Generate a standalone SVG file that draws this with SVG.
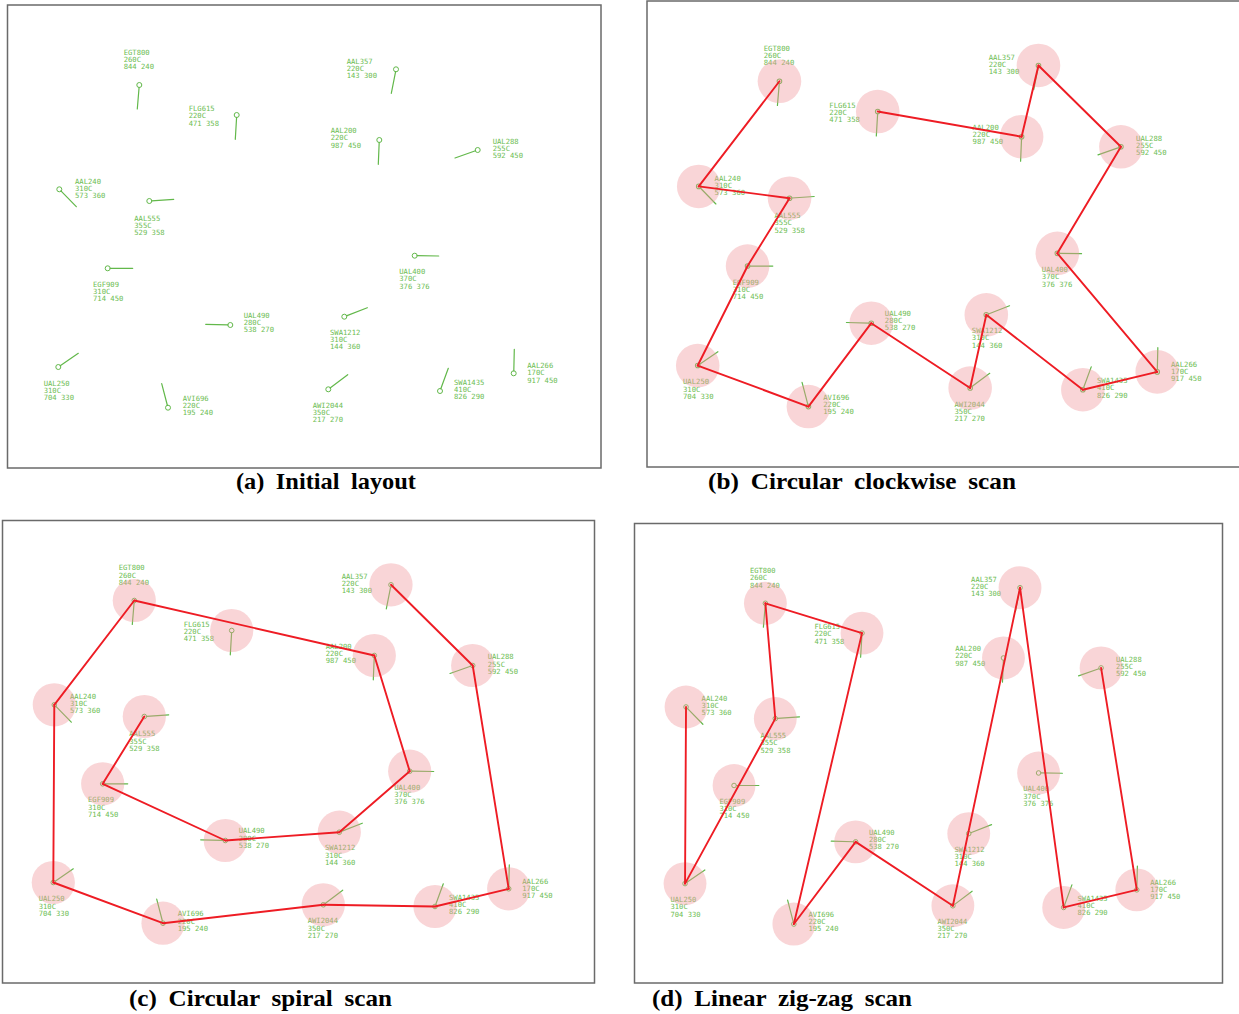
<svg xmlns="http://www.w3.org/2000/svg" width="1239" height="1014" viewBox="0 0 1239 1014">
<style>
.bg{fill:#ffffff}
.frame{fill:none;stroke:#6a6a6a;stroke-width:1.5}
.hd{stroke:#62b84a;stroke-width:1.2;stroke-linecap:round}
.mk{fill:none;stroke:#62b84a;stroke-width:1}
.lb{font-family:"DejaVu Sans Mono","Liberation Mono",monospace;font-size:7.2px;fill:#6cbd52}
.halo{fill:#f0969b;fill-opacity:0.4}
.edge{stroke:#ee1c24;stroke-width:1.9;stroke-linecap:round}
.cap{font-family:"Liberation Serif","Times New Roman",serif;font-weight:bold;font-size:23px;word-spacing:5px;fill:#000}
</style>
<rect class="bg" x="0" y="0" width="1239" height="1014"/>

<!-- Panel frames -->
<rect class="frame" x="7.5" y="5" width="593.5" height="463"/>
<rect class="frame" x="647" y="1" width="600" height="466"/>
<rect class="frame" x="2.5" y="520.5" width="592" height="462.5"/>
<rect class="frame" x="634.5" y="523.5" width="588" height="459.5"/>

<!-- Panel (a) -->
<g id="panel-a">
<g id="a-EGT800"><line class="hd" x1="139.1" y1="87.3" x2="137.3" y2="109"/><circle class="mk" cx="139.3" cy="85" r="2.5"/><text class="lb" x="123.7" y="54.8">EGT800<tspan x="123.7" dy="7.2">260C</tspan><tspan x="123.7" dy="7.2">844 240</tspan></text></g>
<g id="a-FLG615"><line class="hd" x1="236.6" y1="117.3" x2="235.3" y2="139.3"/><circle class="mk" cx="236.7" cy="115" r="2.5"/><text class="lb" x="188.7" y="111.2">FLG615<tspan x="188.7" dy="7.2">220C</tspan><tspan x="188.7" dy="7.2">471 358</tspan></text></g>
<g id="a-AAL240"><line class="hd" x1="60.9" y1="190.9" x2="76.3" y2="206.7"/><circle class="mk" cx="59.3" cy="189.3" r="2.5"/><text class="lb" x="75" y="183.5">AAL240<tspan x="75" dy="7.2">310C</tspan><tspan x="75" dy="7.2">573 360</tspan></text></g>
<g id="a-AAL555"><line class="hd" x1="151.6" y1="200.8" x2="173.7" y2="199.3"/><circle class="mk" cx="149.3" cy="201" r="2.5"/><text class="lb" x="134.3" y="220.8">AAL555<tspan x="134.3" dy="7.2">355C</tspan><tspan x="134.3" dy="7.2">529 358</tspan></text></g>
<g id="a-AAL357"><line class="hd" x1="395.6" y1="71.6" x2="391.3" y2="93.3"/><circle class="mk" cx="396" cy="69.3" r="2.5"/><text class="lb" x="346.7" y="63.5">AAL357<tspan x="346.7" dy="7.2">220C</tspan><tspan x="346.7" dy="7.2">143 300</tspan></text></g>
<g id="a-AAL200"><line class="hd" x1="379.2" y1="142.3" x2="378.3" y2="164.3"/><circle class="mk" cx="379.3" cy="140" r="2.5"/><text class="lb" x="330.7" y="133.2">AAL200<tspan x="330.7" dy="7.2">220C</tspan><tspan x="330.7" dy="7.2">987 450</tspan></text></g>
<g id="a-UAL288"><line class="hd" x1="475.5" y1="150.8" x2="455" y2="158"/><circle class="mk" cx="477.7" cy="150" r="2.5"/><text class="lb" x="492.7" y="143.8">UAL288<tspan x="492.7" dy="7.2">255C</tspan><tspan x="492.7" dy="7.2">592 450</tspan></text></g>
<g id="a-EGF909"><line class="hd" x1="110" y1="268.3" x2="132.7" y2="268.3"/><circle class="mk" cx="107.7" cy="268.3" r="2.5"/><text class="lb" x="93" y="286.8">EGF909<tspan x="93" dy="7.2">310C</tspan><tspan x="93" dy="7.2">714 450</tspan></text></g>
<g id="a-UAL490"><line class="hd" x1="228" y1="324.9" x2="205.7" y2="324.3"/><circle class="mk" cx="230.3" cy="325" r="2.5"/><text class="lb" x="243.7" y="317.8">UAL490<tspan x="243.7" dy="7.2">280C</tspan><tspan x="243.7" dy="7.2">538 270</tspan></text></g>
<g id="a-UAL250"><line class="hd" x1="60.2" y1="365.7" x2="78.3" y2="353.3"/><circle class="mk" cx="58.3" cy="367" r="2.5"/><text class="lb" x="43.7" y="385.8">UAL250<tspan x="43.7" dy="7.2">310C</tspan><tspan x="43.7" dy="7.2">704 330</tspan></text></g>
<g id="a-AVI696"><line class="hd" x1="167.4" y1="405.5" x2="161.7" y2="383.7"/><circle class="mk" cx="168" cy="407.7" r="2.5"/><text class="lb" x="182.7" y="400.8">AVI696<tspan x="182.7" dy="7.2">220C</tspan><tspan x="182.7" dy="7.2">195 240</tspan></text></g>
<g id="a-UAL400"><line class="hd" x1="417" y1="255.7" x2="438.7" y2="256"/><circle class="mk" cx="414.7" cy="255.7" r="2.5"/><text class="lb" x="399.3" y="274.2">UAL400<tspan x="399.3" dy="7.2">370C</tspan><tspan x="399.3" dy="7.2">376 376</tspan></text></g>
<g id="a-SWA1212"><line class="hd" x1="346.4" y1="315.9" x2="367.3" y2="307.7"/><circle class="mk" cx="344.3" cy="316.7" r="2.5"/><text class="lb" x="330" y="334.8">SWA1212<tspan x="330" dy="7.2">310C</tspan><tspan x="330" dy="7.2">144 360</tspan></text></g>
<g id="a-AAL266"><line class="hd" x1="513.8" y1="371" x2="514.3" y2="349.3"/><circle class="mk" cx="513.7" cy="373.3" r="2.5"/><text class="lb" x="527.3" y="368.2">AAL266<tspan x="527.3" dy="7.2">170C</tspan><tspan x="527.3" dy="7.2">917 450</tspan></text></g>
<g id="a-SWA1435"><line class="hd" x1="440.8" y1="388.8" x2="448.3" y2="368.3"/><circle class="mk" cx="440" cy="391" r="2.5"/><text class="lb" x="454" y="384.5">SWA1435<tspan x="454" dy="7.2">410C</tspan><tspan x="454" dy="7.2">826 290</tspan></text></g>
<g id="a-AWI2044"><line class="hd" x1="330.1" y1="387.9" x2="347.7" y2="374.7"/><circle class="mk" cx="328.3" cy="389.3" r="2.5"/><text class="lb" x="312.7" y="407.8">AWI2044<tspan x="312.7" dy="7.2">350C</tspan><tspan x="312.7" dy="7.2">217 270</tspan></text></g>
</g>

<!-- Panel (b) -->
<g id="panel-b" transform="matrix(1.009,0,0,1.008,638.9,-4.4)">
<g id="b-EGT800"><line class="hd" x1="139.1" y1="87.3" x2="137.3" y2="109"/><circle class="mk" cx="139.3" cy="85" r="2.3"/><text class="lb" x="123.7" y="54.8">EGT800<tspan x="123.7" dy="7.2">260C</tspan><tspan x="123.7" dy="7.2">844 240</tspan></text><circle class="halo" cx="139.3" cy="85" r="21.6"/></g>
<g id="b-FLG615"><line class="hd" x1="236.6" y1="117.3" x2="235.3" y2="139.3"/><circle class="mk" cx="236.7" cy="115" r="2.3"/><text class="lb" x="188.7" y="111.2">FLG615<tspan x="188.7" dy="7.2">220C</tspan><tspan x="188.7" dy="7.2">471 358</tspan></text><circle class="halo" cx="236.7" cy="115" r="21.6"/></g>
<g id="b-AAL240"><line class="hd" x1="60.9" y1="190.9" x2="76.3" y2="206.7"/><circle class="mk" cx="59.3" cy="189.3" r="2.3"/><text class="lb" x="75" y="183.5">AAL240<tspan x="75" dy="7.2">310C</tspan><tspan x="75" dy="7.2">573 360</tspan></text><circle class="halo" cx="59.3" cy="189.3" r="21.6"/></g>
<g id="b-AAL555"><line class="hd" x1="151.6" y1="200.8" x2="173.7" y2="199.3"/><circle class="mk" cx="149.3" cy="201" r="2.3"/><text class="lb" x="134.3" y="220.8">AAL555<tspan x="134.3" dy="7.2">355C</tspan><tspan x="134.3" dy="7.2">529 358</tspan></text><circle class="halo" cx="149.3" cy="201" r="21.6"/></g>
<g id="b-AAL357"><line class="hd" x1="395.6" y1="71.6" x2="391.3" y2="93.3"/><circle class="mk" cx="396" cy="69.3" r="2.3"/><text class="lb" x="346.7" y="63.5">AAL357<tspan x="346.7" dy="7.2">220C</tspan><tspan x="346.7" dy="7.2">143 300</tspan></text><circle class="halo" cx="396" cy="69.3" r="21.6"/></g>
<g id="b-AAL200"><line class="hd" x1="379.2" y1="142.3" x2="378.3" y2="164.3"/><circle class="mk" cx="379.3" cy="140" r="2.3"/><text class="lb" x="330.7" y="133.2">AAL200<tspan x="330.7" dy="7.2">220C</tspan><tspan x="330.7" dy="7.2">987 450</tspan></text><circle class="halo" cx="379.3" cy="140" r="21.6"/></g>
<g id="b-UAL288"><line class="hd" x1="475.5" y1="150.8" x2="455" y2="158"/><circle class="mk" cx="477.7" cy="150" r="2.3"/><text class="lb" x="492.7" y="143.8">UAL288<tspan x="492.7" dy="7.2">255C</tspan><tspan x="492.7" dy="7.2">592 450</tspan></text><circle class="halo" cx="477.7" cy="150" r="21.6"/></g>
<g id="b-EGF909"><line class="hd" x1="110" y1="268.3" x2="132.7" y2="268.3"/><circle class="mk" cx="107.7" cy="268.3" r="2.3"/><text class="lb" x="93" y="286.8">EGF909<tspan x="93" dy="7.2">310C</tspan><tspan x="93" dy="7.2">714 450</tspan></text><circle class="halo" cx="107.7" cy="268.3" r="21.6"/></g>
<g id="b-UAL490"><line class="hd" x1="228" y1="324.9" x2="205.7" y2="324.3"/><circle class="mk" cx="230.3" cy="325" r="2.3"/><text class="lb" x="243.7" y="317.8">UAL490<tspan x="243.7" dy="7.2">280C</tspan><tspan x="243.7" dy="7.2">538 270</tspan></text><circle class="halo" cx="230.3" cy="325" r="21.6"/></g>
<g id="b-UAL250"><line class="hd" x1="60.2" y1="365.7" x2="78.3" y2="353.3"/><circle class="mk" cx="58.3" cy="367" r="2.3"/><text class="lb" x="43.7" y="385.8">UAL250<tspan x="43.7" dy="7.2">310C</tspan><tspan x="43.7" dy="7.2">704 330</tspan></text><circle class="halo" cx="58.3" cy="367" r="21.6"/></g>
<g id="b-AVI696"><line class="hd" x1="167.4" y1="405.5" x2="161.7" y2="383.7"/><circle class="mk" cx="168" cy="407.7" r="2.3"/><text class="lb" x="182.7" y="400.8">AVI696<tspan x="182.7" dy="7.2">220C</tspan><tspan x="182.7" dy="7.2">195 240</tspan></text><circle class="halo" cx="168" cy="407.7" r="21.6"/></g>
<g id="b-UAL400"><line class="hd" x1="417" y1="255.7" x2="438.7" y2="256"/><circle class="mk" cx="414.7" cy="255.7" r="2.3"/><text class="lb" x="399.3" y="274.2">UAL400<tspan x="399.3" dy="7.2">370C</tspan><tspan x="399.3" dy="7.2">376 376</tspan></text><circle class="halo" cx="414.7" cy="255.7" r="21.6"/></g>
<g id="b-SWA1212"><line class="hd" x1="346.4" y1="315.9" x2="367.3" y2="307.7"/><circle class="mk" cx="344.3" cy="316.7" r="2.3"/><text class="lb" x="330" y="334.8">SWA1212<tspan x="330" dy="7.2">310C</tspan><tspan x="330" dy="7.2">144 360</tspan></text><circle class="halo" cx="344.3" cy="316.7" r="21.6"/></g>
<g id="b-AAL266"><line class="hd" x1="513.8" y1="371" x2="514.3" y2="349.3"/><circle class="mk" cx="513.7" cy="373.3" r="2.3"/><text class="lb" x="527.3" y="368.2">AAL266<tspan x="527.3" dy="7.2">170C</tspan><tspan x="527.3" dy="7.2">917 450</tspan></text><circle class="halo" cx="513.7" cy="373.3" r="21.6"/></g>
<g id="b-SWA1435"><line class="hd" x1="440.8" y1="388.8" x2="448.3" y2="368.3"/><circle class="mk" cx="440" cy="391" r="2.3"/><text class="lb" x="454" y="384.5">SWA1435<tspan x="454" dy="7.2">410C</tspan><tspan x="454" dy="7.2">826 290</tspan></text><circle class="halo" cx="440" cy="391" r="21.6"/></g>
<g id="b-AWI2044"><line class="hd" x1="330.1" y1="387.9" x2="347.7" y2="374.7"/><circle class="mk" cx="328.3" cy="389.3" r="2.3"/><text class="lb" x="312.7" y="407.8">AWI2044<tspan x="312.7" dy="7.2">350C</tspan><tspan x="312.7" dy="7.2">217 270</tspan></text><circle class="halo" cx="328.3" cy="389.3" r="21.6"/></g>
<g id="b-connectors">
<line class="edge" x1="139.3" y1="85" x2="59.3" y2="189.3"/>
<line class="edge" x1="59.3" y1="189.3" x2="149.3" y2="201"/>
<line class="edge" x1="149.3" y1="201" x2="107.7" y2="268.3"/>
<line class="edge" x1="107.7" y1="268.3" x2="58.3" y2="367"/>
<line class="edge" x1="58.3" y1="367" x2="168" y2="407.7"/>
<line class="edge" x1="168" y1="407.7" x2="230.3" y2="325"/>
<line class="edge" x1="230.3" y1="325" x2="328.3" y2="389.3"/>
<line class="edge" x1="328.3" y1="389.3" x2="344.3" y2="316.7"/>
<line class="edge" x1="344.3" y1="316.7" x2="440" y2="391"/>
<line class="edge" x1="440" y1="391" x2="513.7" y2="373.3"/>
<line class="edge" x1="513.7" y1="373.3" x2="414.7" y2="255.7"/>
<line class="edge" x1="414.7" y1="255.7" x2="477.7" y2="150"/>
<line class="edge" x1="477.7" y1="150" x2="396" y2="69.3"/>
<line class="edge" x1="396" y1="69.3" x2="379.3" y2="140"/>
<line class="edge" x1="379.3" y1="140" x2="236.7" y2="115"/>
</g>
</g>

<!-- Panel (c) -->
<g id="panel-c" transform="translate(-5,515.5)">
<g id="c-EGT800"><line class="hd" x1="139.1" y1="87.3" x2="137.3" y2="109"/><circle class="mk" cx="139.3" cy="85" r="2.3"/><text class="lb" x="123.7" y="54.8">EGT800<tspan x="123.7" dy="7.2">260C</tspan><tspan x="123.7" dy="7.2">844 240</tspan></text><circle class="halo" cx="139.3" cy="85" r="21.6"/></g>
<g id="c-FLG615"><line class="hd" x1="236.6" y1="117.3" x2="235.3" y2="139.3"/><circle class="mk" cx="236.7" cy="115" r="2.3"/><text class="lb" x="188.7" y="111.2">FLG615<tspan x="188.7" dy="7.2">220C</tspan><tspan x="188.7" dy="7.2">471 358</tspan></text><circle class="halo" cx="236.7" cy="115" r="21.6"/></g>
<g id="c-AAL240"><line class="hd" x1="60.9" y1="190.9" x2="76.3" y2="206.7"/><circle class="mk" cx="59.3" cy="189.3" r="2.3"/><text class="lb" x="75" y="183.5">AAL240<tspan x="75" dy="7.2">310C</tspan><tspan x="75" dy="7.2">573 360</tspan></text><circle class="halo" cx="59.3" cy="189.3" r="21.6"/></g>
<g id="c-AAL555"><line class="hd" x1="151.6" y1="200.8" x2="173.7" y2="199.3"/><circle class="mk" cx="149.3" cy="201" r="2.3"/><text class="lb" x="134.3" y="220.8">AAL555<tspan x="134.3" dy="7.2">355C</tspan><tspan x="134.3" dy="7.2">529 358</tspan></text><circle class="halo" cx="149.3" cy="201" r="21.6"/></g>
<g id="c-AAL357"><line class="hd" x1="395.6" y1="71.6" x2="391.3" y2="93.3"/><circle class="mk" cx="396" cy="69.3" r="2.3"/><text class="lb" x="346.7" y="63.5">AAL357<tspan x="346.7" dy="7.2">220C</tspan><tspan x="346.7" dy="7.2">143 300</tspan></text><circle class="halo" cx="396" cy="69.3" r="21.6"/></g>
<g id="c-AAL200"><line class="hd" x1="379.2" y1="142.3" x2="378.3" y2="164.3"/><circle class="mk" cx="379.3" cy="140" r="2.3"/><text class="lb" x="330.7" y="133.2">AAL200<tspan x="330.7" dy="7.2">220C</tspan><tspan x="330.7" dy="7.2">987 450</tspan></text><circle class="halo" cx="379.3" cy="140" r="21.6"/></g>
<g id="c-UAL288"><line class="hd" x1="475.5" y1="150.8" x2="455" y2="158"/><circle class="mk" cx="477.7" cy="150" r="2.3"/><text class="lb" x="492.7" y="143.8">UAL288<tspan x="492.7" dy="7.2">255C</tspan><tspan x="492.7" dy="7.2">592 450</tspan></text><circle class="halo" cx="477.7" cy="150" r="21.6"/></g>
<g id="c-EGF909"><line class="hd" x1="110" y1="268.3" x2="132.7" y2="268.3"/><circle class="mk" cx="107.7" cy="268.3" r="2.3"/><text class="lb" x="93" y="286.8">EGF909<tspan x="93" dy="7.2">310C</tspan><tspan x="93" dy="7.2">714 450</tspan></text><circle class="halo" cx="107.7" cy="268.3" r="21.6"/></g>
<g id="c-UAL490"><line class="hd" x1="228" y1="324.9" x2="205.7" y2="324.3"/><circle class="mk" cx="230.3" cy="325" r="2.3"/><text class="lb" x="243.7" y="317.8">UAL490<tspan x="243.7" dy="7.2">280C</tspan><tspan x="243.7" dy="7.2">538 270</tspan></text><circle class="halo" cx="230.3" cy="325" r="21.6"/></g>
<g id="c-UAL250"><line class="hd" x1="60.2" y1="365.7" x2="78.3" y2="353.3"/><circle class="mk" cx="58.3" cy="367" r="2.3"/><text class="lb" x="43.7" y="385.8">UAL250<tspan x="43.7" dy="7.2">310C</tspan><tspan x="43.7" dy="7.2">704 330</tspan></text><circle class="halo" cx="58.3" cy="367" r="21.6"/></g>
<g id="c-AVI696"><line class="hd" x1="167.4" y1="405.5" x2="161.7" y2="383.7"/><circle class="mk" cx="168" cy="407.7" r="2.3"/><text class="lb" x="182.7" y="400.8">AVI696<tspan x="182.7" dy="7.2">220C</tspan><tspan x="182.7" dy="7.2">195 240</tspan></text><circle class="halo" cx="168" cy="407.7" r="21.6"/></g>
<g id="c-UAL400"><line class="hd" x1="417" y1="255.7" x2="438.7" y2="256"/><circle class="mk" cx="414.7" cy="255.7" r="2.3"/><text class="lb" x="399.3" y="274.2">UAL400<tspan x="399.3" dy="7.2">370C</tspan><tspan x="399.3" dy="7.2">376 376</tspan></text><circle class="halo" cx="414.7" cy="255.7" r="21.6"/></g>
<g id="c-SWA1212"><line class="hd" x1="346.4" y1="315.9" x2="367.3" y2="307.7"/><circle class="mk" cx="344.3" cy="316.7" r="2.3"/><text class="lb" x="330" y="334.8">SWA1212<tspan x="330" dy="7.2">310C</tspan><tspan x="330" dy="7.2">144 360</tspan></text><circle class="halo" cx="344.3" cy="316.7" r="21.6"/></g>
<g id="c-AAL266"><line class="hd" x1="513.8" y1="371" x2="514.3" y2="349.3"/><circle class="mk" cx="513.7" cy="373.3" r="2.3"/><text class="lb" x="527.3" y="368.2">AAL266<tspan x="527.3" dy="7.2">170C</tspan><tspan x="527.3" dy="7.2">917 450</tspan></text><circle class="halo" cx="513.7" cy="373.3" r="21.6"/></g>
<g id="c-SWA1435"><line class="hd" x1="440.8" y1="388.8" x2="448.3" y2="368.3"/><circle class="mk" cx="440" cy="391" r="2.3"/><text class="lb" x="454" y="384.5">SWA1435<tspan x="454" dy="7.2">410C</tspan><tspan x="454" dy="7.2">826 290</tspan></text><circle class="halo" cx="440" cy="391" r="21.6"/></g>
<g id="c-AWI2044"><line class="hd" x1="330.1" y1="387.9" x2="347.7" y2="374.7"/><circle class="mk" cx="328.3" cy="389.3" r="2.3"/><text class="lb" x="312.7" y="407.8">AWI2044<tspan x="312.7" dy="7.2">350C</tspan><tspan x="312.7" dy="7.2">217 270</tspan></text><circle class="halo" cx="328.3" cy="389.3" r="21.6"/></g>
<g id="c-connectors">
<line class="edge" x1="149.3" y1="201" x2="107.7" y2="268.3"/>
<line class="edge" x1="107.7" y1="268.3" x2="230.3" y2="325"/>
<line class="edge" x1="230.3" y1="325" x2="344.3" y2="316.7"/>
<line class="edge" x1="344.3" y1="316.7" x2="414.7" y2="255.7"/>
<line class="edge" x1="414.7" y1="255.7" x2="379.3" y2="140"/>
<line class="edge" x1="379.3" y1="140" x2="139.3" y2="85"/>
<line class="edge" x1="139.3" y1="85" x2="59.3" y2="189.3"/>
<line class="edge" x1="59.3" y1="189.3" x2="58.3" y2="367"/>
<line class="edge" x1="58.3" y1="367" x2="168" y2="407.7"/>
<line class="edge" x1="168" y1="407.7" x2="328.3" y2="389.3"/>
<line class="edge" x1="328.3" y1="389.3" x2="440" y2="391"/>
<line class="edge" x1="440" y1="391" x2="513.7" y2="373.3"/>
<line class="edge" x1="513.7" y1="373.3" x2="477.7" y2="150"/>
<line class="edge" x1="477.7" y1="150" x2="396" y2="69.3"/>
</g>
</g>

<!-- Panel (d) -->
<g id="panel-d" transform="matrix(0.992,0,0,0.994,627.2,518.8)">
<g id="d-EGT800"><line class="hd" x1="139.1" y1="87.3" x2="137.3" y2="109"/><circle class="mk" cx="139.3" cy="85" r="2.3"/><text class="lb" x="123.7" y="54.8">EGT800<tspan x="123.7" dy="7.2">260C</tspan><tspan x="123.7" dy="7.2">844 240</tspan></text><circle class="halo" cx="139.3" cy="85" r="21.6"/></g>
<g id="d-FLG615"><line class="hd" x1="236.6" y1="117.3" x2="235.3" y2="139.3"/><circle class="mk" cx="236.7" cy="115" r="2.3"/><text class="lb" x="188.7" y="111.2">FLG615<tspan x="188.7" dy="7.2">220C</tspan><tspan x="188.7" dy="7.2">471 358</tspan></text><circle class="halo" cx="236.7" cy="115" r="21.6"/></g>
<g id="d-AAL240"><line class="hd" x1="60.9" y1="190.9" x2="76.3" y2="206.7"/><circle class="mk" cx="59.3" cy="189.3" r="2.3"/><text class="lb" x="75" y="183.5">AAL240<tspan x="75" dy="7.2">310C</tspan><tspan x="75" dy="7.2">573 360</tspan></text><circle class="halo" cx="59.3" cy="189.3" r="21.6"/></g>
<g id="d-AAL555"><line class="hd" x1="151.6" y1="200.8" x2="173.7" y2="199.3"/><circle class="mk" cx="149.3" cy="201" r="2.3"/><text class="lb" x="134.3" y="220.8">AAL555<tspan x="134.3" dy="7.2">355C</tspan><tspan x="134.3" dy="7.2">529 358</tspan></text><circle class="halo" cx="149.3" cy="201" r="21.6"/></g>
<g id="d-AAL357"><line class="hd" x1="395.6" y1="71.6" x2="391.3" y2="93.3"/><circle class="mk" cx="396" cy="69.3" r="2.3"/><text class="lb" x="346.7" y="63.5">AAL357<tspan x="346.7" dy="7.2">220C</tspan><tspan x="346.7" dy="7.2">143 300</tspan></text><circle class="halo" cx="396" cy="69.3" r="21.6"/></g>
<g id="d-AAL200"><line class="hd" x1="379.2" y1="142.3" x2="378.3" y2="164.3"/><circle class="mk" cx="379.3" cy="140" r="2.3"/><text class="lb" x="330.7" y="133.2">AAL200<tspan x="330.7" dy="7.2">220C</tspan><tspan x="330.7" dy="7.2">987 450</tspan></text><circle class="halo" cx="379.3" cy="140" r="21.6"/></g>
<g id="d-UAL288"><line class="hd" x1="475.5" y1="150.8" x2="455" y2="158"/><circle class="mk" cx="477.7" cy="150" r="2.3"/><text class="lb" x="492.7" y="143.8">UAL288<tspan x="492.7" dy="7.2">255C</tspan><tspan x="492.7" dy="7.2">592 450</tspan></text><circle class="halo" cx="477.7" cy="150" r="21.6"/></g>
<g id="d-EGF909"><line class="hd" x1="110" y1="268.3" x2="132.7" y2="268.3"/><circle class="mk" cx="107.7" cy="268.3" r="2.3"/><text class="lb" x="93" y="286.8">EGF909<tspan x="93" dy="7.2">310C</tspan><tspan x="93" dy="7.2">714 450</tspan></text><circle class="halo" cx="107.7" cy="268.3" r="21.6"/></g>
<g id="d-UAL490"><line class="hd" x1="228" y1="324.9" x2="205.7" y2="324.3"/><circle class="mk" cx="230.3" cy="325" r="2.3"/><text class="lb" x="243.7" y="317.8">UAL490<tspan x="243.7" dy="7.2">280C</tspan><tspan x="243.7" dy="7.2">538 270</tspan></text><circle class="halo" cx="230.3" cy="325" r="21.6"/></g>
<g id="d-UAL250"><line class="hd" x1="60.2" y1="365.7" x2="78.3" y2="353.3"/><circle class="mk" cx="58.3" cy="367" r="2.3"/><text class="lb" x="43.7" y="385.8">UAL250<tspan x="43.7" dy="7.2">310C</tspan><tspan x="43.7" dy="7.2">704 330</tspan></text><circle class="halo" cx="58.3" cy="367" r="21.6"/></g>
<g id="d-AVI696"><line class="hd" x1="167.4" y1="405.5" x2="161.7" y2="383.7"/><circle class="mk" cx="168" cy="407.7" r="2.3"/><text class="lb" x="182.7" y="400.8">AVI696<tspan x="182.7" dy="7.2">220C</tspan><tspan x="182.7" dy="7.2">195 240</tspan></text><circle class="halo" cx="168" cy="407.7" r="21.6"/></g>
<g id="d-UAL400"><line class="hd" x1="417" y1="255.7" x2="438.7" y2="256"/><circle class="mk" cx="414.7" cy="255.7" r="2.3"/><text class="lb" x="399.3" y="274.2">UAL400<tspan x="399.3" dy="7.2">370C</tspan><tspan x="399.3" dy="7.2">376 376</tspan></text><circle class="halo" cx="414.7" cy="255.7" r="21.6"/></g>
<g id="d-SWA1212"><line class="hd" x1="346.4" y1="315.9" x2="367.3" y2="307.7"/><circle class="mk" cx="344.3" cy="316.7" r="2.3"/><text class="lb" x="330" y="334.8">SWA1212<tspan x="330" dy="7.2">310C</tspan><tspan x="330" dy="7.2">144 360</tspan></text><circle class="halo" cx="344.3" cy="316.7" r="21.6"/></g>
<g id="d-AAL266"><line class="hd" x1="513.8" y1="371" x2="514.3" y2="349.3"/><circle class="mk" cx="513.7" cy="373.3" r="2.3"/><text class="lb" x="527.3" y="368.2">AAL266<tspan x="527.3" dy="7.2">170C</tspan><tspan x="527.3" dy="7.2">917 450</tspan></text><circle class="halo" cx="513.7" cy="373.3" r="21.6"/></g>
<g id="d-SWA1435"><line class="hd" x1="440.8" y1="388.8" x2="448.3" y2="368.3"/><circle class="mk" cx="440" cy="391" r="2.3"/><text class="lb" x="454" y="384.5">SWA1435<tspan x="454" dy="7.2">410C</tspan><tspan x="454" dy="7.2">826 290</tspan></text><circle class="halo" cx="440" cy="391" r="21.6"/></g>
<g id="d-AWI2044"><line class="hd" x1="330.1" y1="387.9" x2="347.7" y2="374.7"/><circle class="mk" cx="328.3" cy="389.3" r="2.3"/><text class="lb" x="312.7" y="407.8">AWI2044<tspan x="312.7" dy="7.2">350C</tspan><tspan x="312.7" dy="7.2">217 270</tspan></text><circle class="halo" cx="328.3" cy="389.3" r="21.6"/></g>
<g id="d-connectors">
<line class="edge" x1="59.3" y1="189.3" x2="58.3" y2="367"/>
<line class="edge" x1="58.3" y1="367" x2="149.3" y2="201"/>
<line class="edge" x1="149.3" y1="201" x2="139.3" y2="85"/>
<line class="edge" x1="139.3" y1="85" x2="236.7" y2="115"/>
<line class="edge" x1="236.7" y1="115" x2="168" y2="407.7"/>
<line class="edge" x1="168" y1="407.7" x2="230.3" y2="325"/>
<line class="edge" x1="230.3" y1="325" x2="328.3" y2="389.3"/>
<line class="edge" x1="328.3" y1="389.3" x2="396" y2="69.3"/>
<line class="edge" x1="396" y1="69.3" x2="440" y2="391"/>
<line class="edge" x1="440" y1="391" x2="513.7" y2="373.3"/>
<line class="edge" x1="513.7" y1="373.3" x2="477.7" y2="150"/>
</g>
</g>

<!-- Captions -->
<text class="cap" x="236" y="489" textLength="180" lengthAdjust="spacingAndGlyphs">(a) Initial layout</text>
<text class="cap" x="708" y="489" textLength="308" lengthAdjust="spacingAndGlyphs">(b) Circular clockwise scan</text>
<text class="cap" x="129" y="1006" textLength="263" lengthAdjust="spacingAndGlyphs">(c) Circular spiral scan</text>
<text class="cap" x="652" y="1006" textLength="260" lengthAdjust="spacingAndGlyphs">(d) Linear zig-zag scan</text>
</svg>
